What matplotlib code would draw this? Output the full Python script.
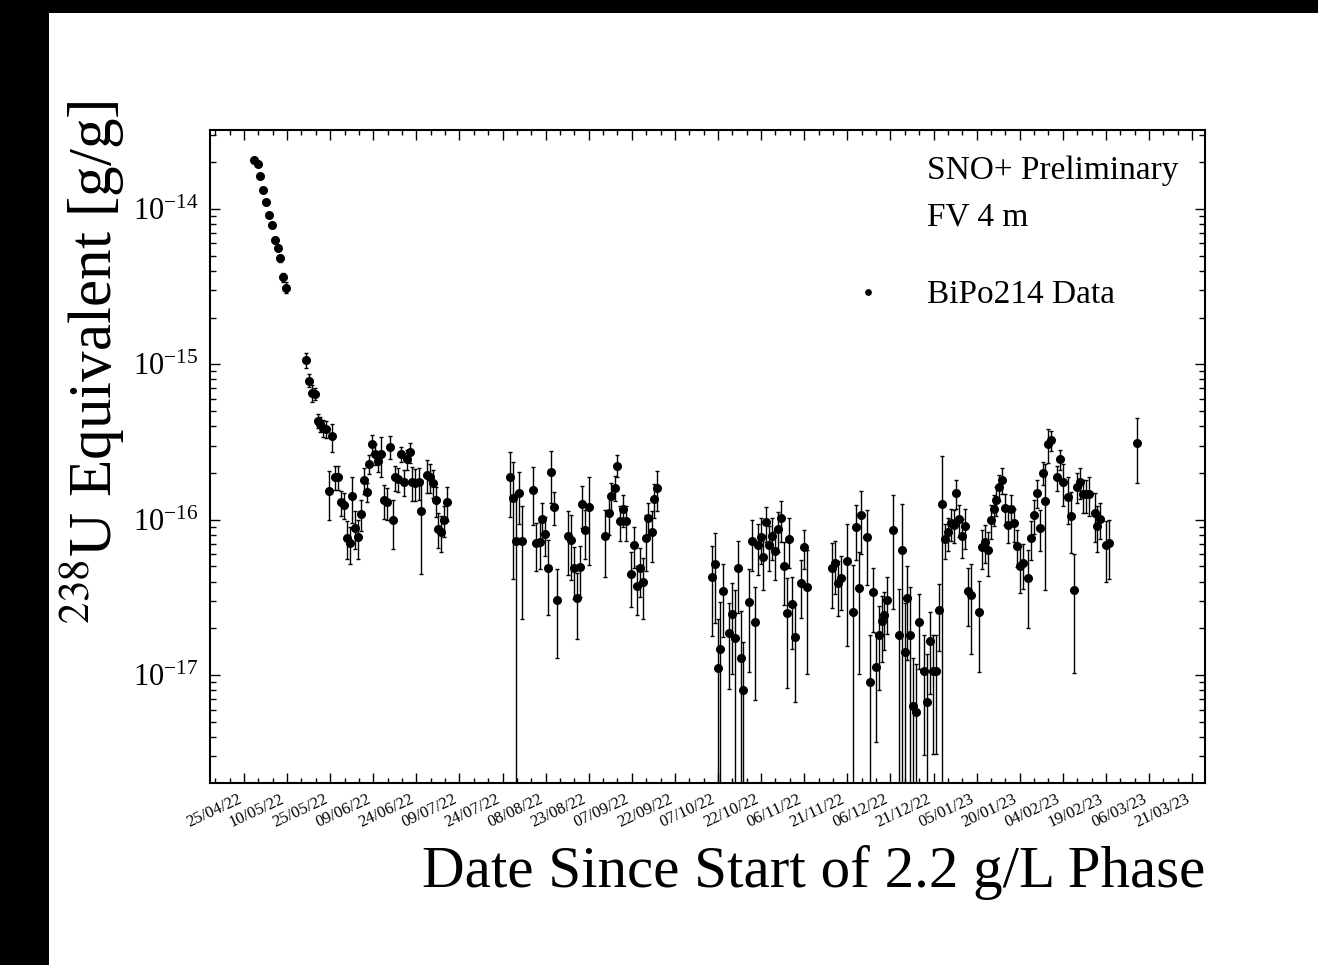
import datetime as dt

import numpy as np
import matplotlib
matplotlib.use("Agg")
import matplotlib.pyplot as plt
import matplotlib.dates as mdates
from matplotlib.patches import Rectangle
from matplotlib.ticker import FixedLocator, LogLocator

# Start of the 2.2 g/L loading phase; x values are days since this date
phase_start = dt.datetime(2022, 4, 25)

days = [
    3.6, 4.8, 5.7, 6.6, 7.7, 8.7, 9.6, 10.7, 11.7, 12.6, 13.7, 14.6,
    21.7, 22.7, 23.8, 24.8, 25.7, 26.6, 27.5, 28.7, 29.7, 30.7,
    31.6, 32.7, 33.7, 34.8, 35.8, 36.8, 37.7, 38.7, 39.8, 40.7, 41.7, 42.7,
    43.6, 44.7, 45.6, 46.7, 47.8, 48.7, 49.8, 50.7, 51.8, 52.7, 53.7, 54.7,
    55.8, 56.7, 57.8, 58.6, 59.6, 60.8, 61.7, 63.6, 64.7, 65.9, 66.7, 67.5,
    68.7, 69.7, 70.7,
    92.7, 93.7, 94.7, 95.8, 96.8, 100.7, 101.6, 102.9, 103.8, 104.9, 105.8,
    106.7, 107.8, 108.8, 112.8, 113.8, 114.8, 115.8, 116.8, 117.7, 118.8,
    120.0, 125.8, 126.9, 127.9, 129.0, 129.9, 130.8, 131.8, 132.9, 134.7,
    135.7, 136.8, 137.8, 138.9, 139.8, 140.8, 141.9, 142.8, 143.9,
    162.8, 163.8, 164.9, 165.8, 166.8, 168.8, 169.8, 170.9, 171.8, 172.9,
    173.8, 175.9, 176.8, 177.9, 178.8, 179.8, 180.8, 181.8, 182.7, 183.8,
    184.8, 185.8, 186.8, 187.9, 188.9, 189.8, 190.8, 191.9, 193.9, 194.9,
    195.9,
    204.8, 205.8, 206.9, 207.9, 209.8, 211.9, 212.9, 214.0, 214.9, 216.9,
    217.9, 218.9, 219.9, 221.0, 222.0, 222.8, 223.9, 225.9, 227.9, 228.9,
    230.0, 230.9, 231.9, 232.9, 233.9, 234.8, 236.8, 237.8, 238.8, 239.8,
    240.8, 241.9, 242.8, 243.9, 244.9, 246.0, 247.0, 247.9, 249.0, 249.9,
    251.0, 251.9, 252.9, 255.9, 256.9, 257.9, 259.0, 259.9, 260.9, 261.9,
    262.9, 263.9, 264.9, 265.9, 267.0, 268.0, 268.9, 270.0, 271.0, 273.0,
    273.9, 275.0, 275.9, 276.9, 278.0, 278.9, 279.9, 281.0, 283.0, 284.0,
    285.0, 286.9, 288.0, 288.9, 289.8, 291.0, 291.9, 293.0, 294.0, 296.1,
    297.0, 298.1, 300.0, 301.1,
    310.9,
]

# 238U equivalent concentration, in units of 1e-16 g/g
u238 = [
    205, 195, 162, 133, 111, 92, 79, 63, 56, 48, 36.4, 31.2,
    10.6, 7.86, 6.52, 6.45, 4.34, 4.14, 3.88, 3.84, 1.53, 3.44,
    1.88, 1.88, 1.29, 1.245, 0.767, 0.712, 1.42, 0.889, 0.778, 1.09, 1.80, 1.50,
    2.29, 3.08, 2.65, 2.37, 2.65, 1.34, 1.30, 2.95, 0.993, 1.87, 1.83, 2.65,
    1.76, 2.45, 2.73, 1.74, 1.72, 1.74, 1.13, 1.95, 1.89, 1.73, 1.335, 0.876,
    0.838, 0.997, 1.30,
    1.89, 1.375, 0.73, 1.49, 0.73, 1.55, 0.709, 0.72, 1.007, 0.814, 0.49,
    2.03, 1.21, 0.303, 0.79, 0.741, 0.487, 0.311, 0.499, 1.26, 0.86,
    1.20, 0.79, 1.10, 1.41, 1.61, 2.23, 0.982, 1.17, 0.982, 0.446,
    0.691, 0.375, 0.49, 0.40, 0.767, 1.027, 0.838, 1.355, 1.595,
    0.428, 0.517, 0.111, 0.147, 0.347, 0.186, 0.247, 0.174, 0.49, 0.128,
    0.0803, 0.294, 0.73, 0.219, 0.688, 0.772, 0.574, 0.963, 0.688, 0.787,
    0.63, 0.869, 1.022, 0.502, 0.252, 0.756, 0.288, 0.177, 0.392, 0.671,
    0.371,
    0.49, 0.53, 0.39, 0.422, 0.543, 0.254, 0.899, 0.362, 1.069, 0.772,
    0.09, 0.34, 0.112, 0.18, 0.222, 0.244, 0.305, 0.856, 0.18, 0.636,
    0.14, 0.315, 0.18, 0.063, 0.0577, 0.22, 0.1055, 0.0673, 0.165, 0.106,
    0.106, 0.263, 1.264, 0.752, 0.831, 0.95, 0.926, 1.481, 1.012, 0.79,
    0.912, 0.348, 0.327, 0.255, 0.668, 0.723, 0.636, 1.0, 1.174, 1.341,
    1.626, 1.796, 1.196, 0.926, 1.174, 0.95, 0.678, 0.507, 0.527, 0.42,
    0.767, 1.074, 1.494, 0.889, 2.01, 1.321, 3.075, 3.249, 1.877, 2.451,
    1.751, 1.408, 1.058, 0.353, 1.633, 1.751, 1.459, 1.459, 1.466, 1.101,
    0.916, 1.016, 0.688, 0.706,
    3.107,
]

# Statistical uncertainty, same units
u238_err = [
    3, 3, 3, 3, 3, 2.5, 2.5, 2.5, 2.5, 2.5, 2.3, 2.6,
    1.15, 0.75, 0.8, 0.6, 0.47, 0.45, 0.49, 0.5, 0.53, 0.7,
    0.32, 0.32, 0.23, 0.23, 0.21, 0.19, 0.47, 0.24, 0.22, 0.24, 0.34, 0.21,
    0.33, 0.44, 0.4, 0.35, 0.77, 0.33, 0.3, 0.51, 0.35, 0.33, 0.32, 0.3,
    0.33, 0.36, 0.4, 0.43, 0.4, 0.4, 0.68, 0.47, 0.4, 0.35, 0.3, 0.22,
    0.22, 0.22, 0.32,
    0.85, 0.96, 0.75, 0.55, 0.5, 0.62, 0.24, 0.24, 0.27, 0.23, 0.245,
    0.75, 0.29, 0.175, 0.35, 0.33, 0.18, 0.14, 0.18, 0.38, 0.3,
    0.69, 0.36, 0.3, 0.3, 0.3, 0.36, 0.25, 0.27, 0.25, 0.17,
    0.2, 0.13, 0.17, 0.17, 0.3, 0.25, 0.3, 0.33, 0.45,
    0.25, 0.3, 0.12, 0.15, 0.17, 0.105, 0.145, 0.18, 0.24, 0.13,
    0.082, 0.19, 0.26, 0.15, 0.25, 0.25, 0.22, 0.24, 0.22, 0.24,
    0.22, 0.25, 0.3, 0.22, 0.17, 0.27, 0.14, 0.11, 0.16, 0.19,
    0.27,
    0.22, 0.2, 0.15, 0.16, 0.39, 0.26, 0.35, 0.26, 0.47, 0.39,
    0.092, 0.15, 0.075, 0.1, 0.1, 0.1, 0.12, 0.59, 0.18, 0.62,
    0.15, 0.19, 0.19, 0.065, 0.06, 0.11, 0.075, 0.07, 0.09, 0.075,
    0.075, 0.12, 1.3, 0.19, 0.2, 0.22, 0.22, 0.31, 0.24, 0.22,
    0.26, 0.14, 0.19, 0.15, 0.19, 0.2, 0.2, 0.25, 0.27, 0.28,
    0.3, 0.34, 0.27, 0.22, 0.27, 0.23, 0.18, 0.17, 0.17, 0.22,
    0.22, 0.27, 0.31, 0.26, 0.33, 0.97, 0.75, 0.48, 0.35, 0.36,
    0.53, 0.47, 0.45, 0.25, 0.36, 0.4, 0.35, 0.35, 0.41, 0.38,
    0.3, 0.27, 0.29, 0.29,
    1.39,
]

unit = 1e-16
dates = [phase_start + dt.timedelta(days=d) for d in days]
values = np.array(u238) * unit
errors = np.array(u238_err) * unit

plt.rcParams.update({
    "font.family": "serif",
    "font.serif": ["Liberation Serif", "DejaVu Serif"],
    "mathtext.fontset": "stix",
})

W, H = 1318, 965
fig = plt.figure(figsize=(W / 100, H / 100), dpi=100, facecolor="black")
fig.patches.append(Rectangle((49 / W, 0), 1, 1 - 13 / H, transform=fig.transFigure,
                             facecolor="white", edgecolor="none", zorder=-1))

ax = fig.add_axes([209.5 / W, 1 - 783 / H, (1205 - 209.5) / W, (783 - 130) / H])

cont = ax.errorbar(dates, values, yerr=errors, fmt="o", color="black",
                   ms=5.5, elinewidth=1.0, capsize=1.3, capthick=1.0,
                   label="BiPo214 Data")

ax.set_yscale("log")
ax.set_ylim(2.02e-18, 3.22e-14)
ax.set_xlim(phase_start - dt.timedelta(days=12), phase_start + dt.timedelta(days=334.5))

major_dates = [phase_start + dt.timedelta(days=15 * i) for i in range(23)]
minor_dates = [phase_start + dt.timedelta(days=5 * i) for i in range(-2, 67)]
ax.xaxis.set_major_locator(FixedLocator(mdates.date2num(major_dates)))
ax.xaxis.set_minor_locator(FixedLocator(mdates.date2num(minor_dates)))
ax.xaxis.set_major_formatter(mdates.DateFormatter("%d/%m/%y"))
ax.yaxis.set_minor_locator(LogLocator(base=10, subs=np.arange(2, 10), numticks=20))

for s in ax.spines.values():
    s.set_linewidth(1.5)

ax.tick_params(which="both", direction="in", top=True, right=True, width=1.0)
ax.tick_params(axis="x", which="major", length=7.2, labelsize=12, pad=6)
ax.tick_params(axis="x", which="minor", length=3.6)
ax.tick_params(axis="y", which="major", length=7.5, labelsize=22, pad=8)
ax.tick_params(axis="y", which="minor", length=4.3)
plt.setp(ax.get_xticklabels(), rotation=25, ha="right")

ax.set_xlabel("Date Since Start of 2.2 g/L Phase", fontsize=42.5, ha="right")
ax.xaxis.set_label_coords(1.0, -0.095)
ax.set_ylabel(r"$^{238}$U Equivalent [g/g]", fontsize=44, ha="right")
ax.yaxis.set_label_coords(-0.083, 1.046)

ax.text(0.7207, 0.9245, "SNO+ Preliminary", transform=ax.transAxes,
        fontsize=24, va="baseline", ha="left")
ax.text(0.7207, 0.8545, "FV 4 m", transform=ax.transAxes,
        fontsize=24, va="baseline", ha="left")

ax.legend(handles=[cont[0]], labels=["BiPo214 Data"], loc="center left",
          bbox_to_anchor=(0.6447, 0.747), frameon=False, fontsize=24,
          markerscale=0.7, handlelength=1.0, handletextpad=1.27,
          borderpad=0, borderaxespad=0)

fig.savefig("out.png", dpi=100)
